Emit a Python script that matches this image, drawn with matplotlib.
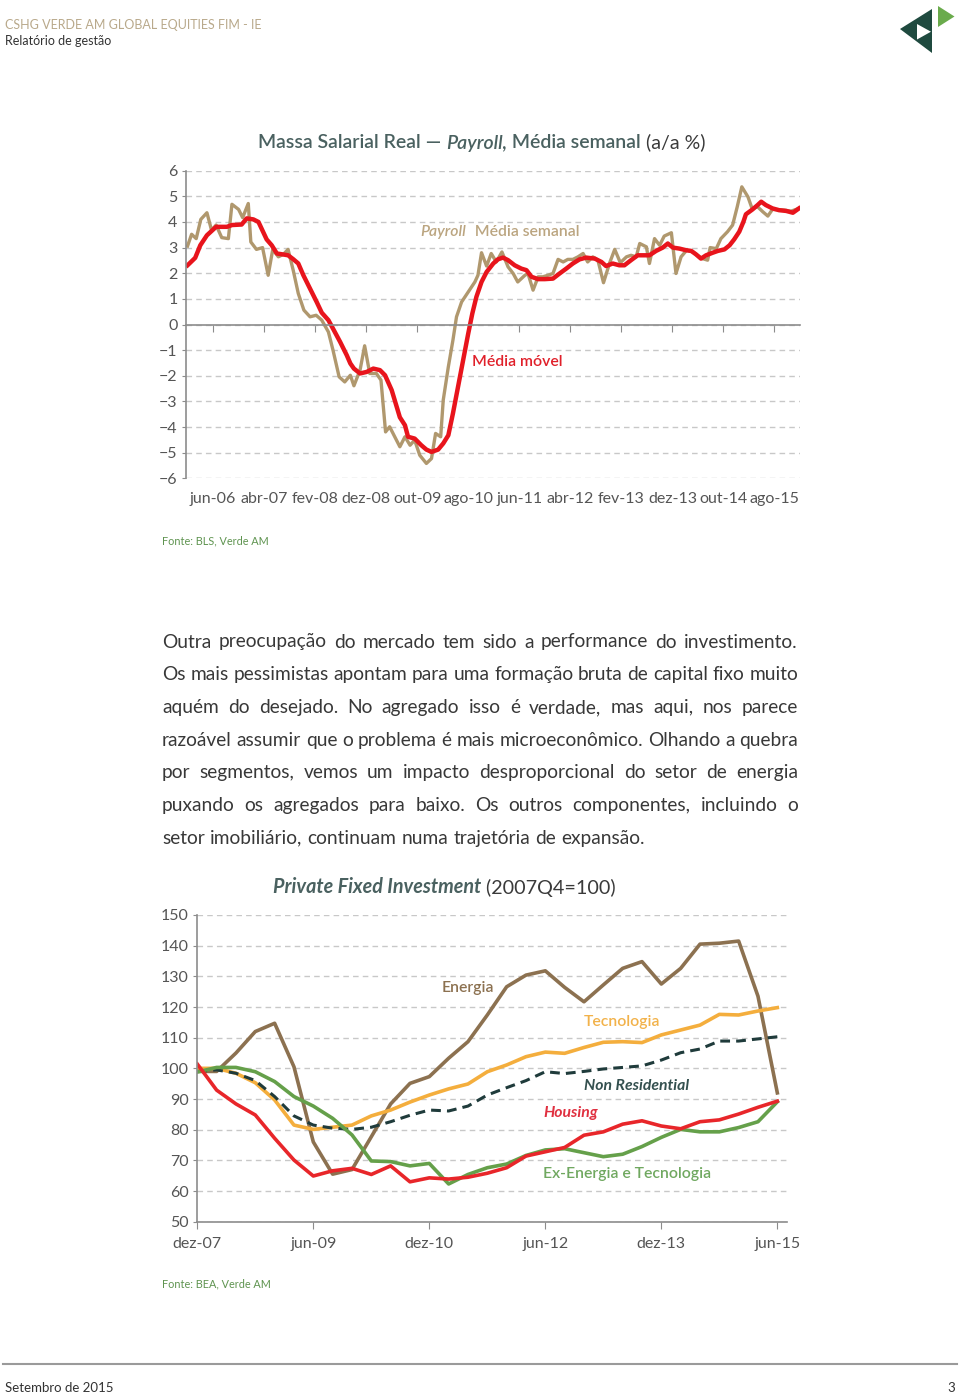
import matplotlib
matplotlib.use('Agg')
import matplotlib.pyplot as plt
from matplotlib.patches import Polygon

plt.rcParams['font.family'] = ['Lato', 'DejaVu Sans']

W, H = 960, 1395

# ── Top chart: Massa salarial real (a/a %) ──
# x in months, jun-06 = 0
payroll_m = [-5, -4.2, -3.3, -2.4, -1.2, -0.3, 0.6, 1.7, 3.0, 3.7, 5.0, 5.8, 6.9, 7.4, 8.5, 9.7,
             10.8, 11.7, 12.8, 13.8, 14.7, 15.7, 16.7, 17.8, 19.0, 20.2, 21.3, 22.6, 23.5, 24.7,
             25.8, 26.9, 27.6, 28.8, 29.7, 30.7, 32.0, 32.9, 33.8, 34.6, 35.6, 36.6, 37.6, 38.6,
             39.5, 40.5, 41.8, 42.8, 43.6, 44.6, 45.1, 46.1, 47.0, 47.7, 48.7, 50.0, 51.3, 51.9,
             52.6, 53.6, 54.5, 55.5, 56.6, 57.8, 58.8, 59.7, 61.1, 61.7, 62.7, 63.7, 64.6, 65.6,
             66.6, 67.6, 68.6, 69.5, 70.5, 71.5, 72.5, 73.4, 74.4, 75.4, 76.5, 77.7, 78.7, 79.8,
             81.0, 81.9, 82.9, 83.6, 84.9, 85.5, 86.5, 87.5, 88.4, 89.8, 90.7, 91.7, 92.8, 94.0,
             95.3, 95.9, 96.9, 97.4, 98.6, 99.5, 100.8, 101.8, 102.7, 103.6, 104.8, 105.6, 106.7,
             107.7, 108.7, 109.6, 110.8, 112.0, 113.2, 114.4]
payroll_v = [3.06, 3.52, 3.35, 4.1, 4.36, 3.68, 3.88, 3.39, 3.35, 4.69, 4.49, 4.17, 4.72, 3.22, 2.93, 3.0,
             1.92, 2.93, 2.64, 2.74, 2.93, 2.12, 1.21, 0.56, 0.30, 0.36, 0.17, -0.29, -1.0, -2.04,
             -2.24, -1.98, -2.39, -1.78, -0.83, -1.91, -1.91, -2.17, -4.19, -3.99, -4.38, -4.77, -4.38, -4.71,
             -4.51, -5.1, -5.42, -5.23, -4.25, -4.38, -2.95, -1.65, -0.61, 0.3, 0.88, 1.27, 1.66, 1.92,
             2.8, 2.28, 2.77, 2.44, 2.83, 2.25, 1.99, 1.66, 1.92, 1.99, 1.34, 1.86, 1.86, 1.92,
             1.99, 2.54, 2.44, 2.54, 2.54, 2.64, 2.77, 2.44, 2.64, 2.51, 1.63, 2.4, 2.93, 2.41,
             2.64, 2.7, 2.64, 3.16, 3.03, 2.38, 3.35, 3.09, 3.45, 3.58, 1.99, 2.64, 2.9, 2.83,
             2.64, 2.57, 2.51, 3.0, 2.96, 3.35, 3.62, 3.88, 4.59, 5.37, 4.98, 4.53, 4.59,
             4.4, 4.23, 4.49, 4.48, 4.46, 4.42, 4.5]

movel_m = [-5, -3.5, -2.5, -1.2, 0.6, 2.7, 3.7, 5.6, 6.6, 7.9, 8.9, 10.5, 11.5, 12.5, 13.8, 14.7,
           15.7, 16.7, 17.7, 19.0, 20.3, 21.3, 22.6, 23.5, 24.9, 26.2, 26.9, 27.6, 28.8, 30.1, 31.4,
           32.7, 33.7, 35.0, 36.6, 37.6, 38.2, 39.5, 40.8, 41.8, 42.8, 44.1, 45.1, 46.1, 47.0, 48.0,
           49.0, 50.0, 50.8, 51.6, 52.6, 53.6, 54.9, 55.8, 56.8, 57.8, 59.1, 60.4, 61.4, 62.4, 63.7,
           65.0, 66.6, 67.9, 69.2, 70.5, 71.8, 73.1, 74.8, 76.1, 77.0, 78.3, 79.6, 80.6, 81.9, 83.2,
           85.5, 86.8, 88.1, 89.1, 90.1, 91.4, 92.6, 93.7, 94.6, 95.6, 96.6, 97.9, 98.9, 100.2, 101.2,
           102.1, 103.1, 103.9, 104.4, 105.7, 106.7, 107.4, 108.3, 109.6, 110.9, 112.3, 113.6, 114.8]
movel_v = [2.31, 2.6, 3.09, 3.48, 3.81, 3.81, 3.88, 3.9, 4.14, 4.1, 4.0, 3.32, 3.09, 2.77, 2.73, 2.7,
           2.55, 2.38, 1.92, 1.4, 0.88, 0.46, 0.17, -0.16, -0.68, -1.2, -1.52, -1.72, -1.91, -1.85, -1.72,
           -1.78, -1.98, -2.56, -3.62, -3.93, -4.38, -4.45, -4.71, -4.88, -4.97, -4.88, -4.64, -4.32, -3.47, -2.43,
           -1.39, -0.35, 0.43, 1.08, 1.66, 2.05, 2.38, 2.54, 2.61, 2.51, 2.31, 2.18, 2.12, 1.86, 1.77,
           1.77, 1.79, 1.99, 2.18, 2.38, 2.54, 2.61, 2.57, 2.44, 2.28, 2.38, 2.31, 2.31, 2.51, 2.7,
           2.7, 2.87, 3.0, 3.16, 3.0, 2.96, 2.9, 2.87, 2.74, 2.57, 2.7, 2.8, 2.87, 2.93, 3.09,
           3.32, 3.62, 4.0, 4.3, 4.49, 4.66, 4.79, 4.66, 4.53, 4.46, 4.43, 4.36, 4.53]

top_tick_pos = [0, 10, 20, 30, 40, 50, 60, 70, 80, 90, 100, 110]
top_tick_lbl = ['jun-06', 'abr-07', 'fev-08', 'dez-08', 'out-09', 'ago-10',
                'jun-11', 'abr-12', 'fev-13', 'dez-13', 'out-14', 'ago-15']

# ── Bottom chart: Private Fixed Investment (2007Q4=100), quarters from dez-07 ──
quarters = list(range(31))
energia = [99, 99, 105, 112, 114.7, 100.5, 76, 65.5, 67, 77.7, 88.4, 95.1, 97.3, 103.3, 108.7, 117.4,
           126.6, 130.4, 131.8, 126.4, 121.7, 127.2, 132.6, 134.8, 127.5, 132.6, 140.5, 140.8, 141.5,
           123.5, 92]
tecnologia = [100, 100, 98.4, 95.3, 89.7, 81.5, 80.1, 80.8, 81.5, 84.5, 86.4, 89, 91.3, 93.3, 94.9,
              98.9, 101.1, 103.8, 105.3, 104.9, 106.8, 108.5, 108.7, 108.4, 110.9, 112.5, 114.1,
              117.6, 117.4, 118.7, 119.8]
non_residential = [99, 99.5, 98.4, 96, 90.8, 84.5, 81.5, 80.5, 80.1, 80.8, 82.6, 84.7, 86.4, 86.1,
                   87.7, 91.3, 93.7, 96, 98.9, 98.3, 99, 99.8, 100.3, 100.8, 102.7, 105.1, 106.3,
                   108.9, 108.9, 109.6, 110.3]
ex_energia = [98.8, 100.3, 100.3, 98.9, 95.7, 90.8, 87.7, 83.7, 78.3, 69.8, 69.6, 68.2, 69, 62.3,
              65.4, 67.6, 68.8, 71.6, 73.4, 73.8, 72.5, 71.2, 72, 74.5, 77.5, 80.1, 79.3, 79.3,
              80.7, 82.6, 89.1]
housing = [101.4, 92.9, 88.4, 84.8, 77.2, 70.1, 64.9, 66.6, 67.4, 65.4, 68.2, 63, 64.3, 63.9, 64.5,
           65.8, 67.6, 71.4, 72.8, 74.2, 78.2, 79.3, 81.8, 82.9, 81.2, 80.3, 82.6, 83.2, 85.1,
           87.3, 89.3]
bot_tick_pos = [0, 6, 12, 18, 24, 30]
bot_tick_lbl = ['dez-07', 'jun-09', 'dez-10', 'jun-12', 'dez-13', 'jun-15']

body = [
    'Outra preocupação do mercado tem sido a performance do investimento.',
    'Os mais pessimistas apontam para uma formação bruta de capital fixo muito',
    'aquém do desejado. No agregado isso é verdade, mas aqui, nos parece',
    'razoável assumir que o problema é mais microeconômico. Olhando a quebra',
    'por segmentos, vemos um impacto desproporcional do setor de energia',
    'puxando os agregados para baixo. Os outros componentes, incluindo o',
    'setor imobiliário, continuam numa trajetória de expansão.',
]

GRAY = '#8c8c8c'
LBL = '#555555'
TITLE = '#4a6160'
GRID = '#c8c8c8'


def fx(x):
    return x / W


def fy(y):
    return 1 - y / H


def rich(ax, x, y, parts, size, coords='data'):
    """Draw consecutive text pieces with different styles on one line."""
    s0, kw0 = parts[0]
    if coords == 'fig':
        t = ax.figure.text(fx(x), fy(y), s0, fontsize=size, va='center', **kw0)
    else:
        t = ax.text(x, y, s0, fontsize=size, va='center', **kw0)
    for s, kw in parts[1:]:
        t = ax.annotate(s, xy=(1, 0), xycoords=t, va='bottom', ha='left',
                        fontsize=size, annotation_clip=False, **kw)
    return t


fig = plt.figure(figsize=(W / 100, H / 100), dpi=100)

# header
fig.text(fx(5), fy(25), 'CSHG VERDE AM GLOBAL EQUITIES FIM - IE', fontsize=9,
         color='#b9a98b', va='center')
fig.text(fx(5), fy(41), 'Relatório de gestão', fontsize=9, color='#333333', va='center')
logo = [([(900, 29), (932, 9), (932, 53)], '#1f4a3f'),
        ([(917, 24), (917, 39.5), (931, 31.7)], 'white'),
        ([(938, 6), (938, 27), (954.5, 16.5)], '#6aab4c')]
for pts, c in logo:
    fig.add_artist(Polygon([(fx(a), fy(b)) for a, b in pts], closed=True, color=c,
                           transform=fig.transFigure, lw=0))

# ── top chart ──
ax1 = fig.add_axes([fx(186), fy(478.3), 614 / W, 307.6 / H])
ax1.set_xlim(-5.3, 115)
ax1.set_ylim(-6, 6)
ax1.set_axisbelow(True)
ax1.yaxis.grid(True, linestyle=(0, (4, 3)), color=GRID, lw=1)
for s in ['top', 'right']:
    ax1.spines[s].set_visible(False)
ax1.spines['bottom'].set_position(('data', 0))
ax1.spines['bottom'].set_color(GRAY)
ax1.spines['left'].set_color(GRAY)
ax1.spines['bottom'].set_linewidth(1.2)
ax1.spines['left'].set_linewidth(1.2)
ax1.set_yticks(range(-6, 7))
ax1.set_yticklabels([str(v).replace('-', '−') for v in range(-6, 7)])
ax1.tick_params(axis='y', length=3, color=GRAY, labelsize=11.5, labelcolor=LBL, pad=3)
ax1.set_xticks(top_tick_pos)
ax1.tick_params(axis='x', length=5, color=GRAY, labelbottom=False)
sec = ax1.secondary_xaxis('bottom')
sec.set_xticks(top_tick_pos, labels=top_tick_lbl)
sec.tick_params(length=0, pad=10, labelsize=11.5, labelcolor=LBL)
sec.spines['bottom'].set_visible(False)

ax1.plot(payroll_m, payroll_v, color='#b0986e', lw=2.4, solid_joinstyle='round')
ax1.plot(movel_m, movel_v, color='#e8141c', lw=3.2, solid_joinstyle='round')

rich(ax1, 40.7, 3.6, [('Payroll', dict(color='#bba580', style='italic', weight='semibold')),
                       ('  Média semanal', dict(color='#bba580', weight='semibold'))], 11.3)
ax1.text(50.7, -1.47, 'Média móvel', fontsize=11.3, color='#e0202a', weight='semibold', va='center')

rich(ax1, 258, 143, [('Massa Salarial Real — ', dict(color=TITLE, weight='semibold')),
                     ('Payroll,', dict(color=TITLE, weight='semibold', style='italic')),
                     (' Média semanal', dict(color=TITLE, weight='semibold')),
                     (' (a/a %)', dict(color='#3a3a3a'))], 14.0, coords='fig')

fig.text(fx(162), fy(541), 'Fonte: BLS, Verde AM', fontsize=7.8, color='#5f9450', va='center')

# ── body text (justified) ──
renderer = fig.canvas.get_renderer()
x0, x1 = 162, 798


def layout_body(size):
    rows = []
    for i, line in enumerate(body):
        y = 642 + i * 32.7
        words = line.split()
        ts = [fig.text(0, fy(y), w, fontsize=size, color='#383838', va='center') for w in words]
        widths = [t.get_window_extent(renderer).width for t in ts]
        rows.append((ts, widths))
    return rows


size = 15.5
while True:
    rows = layout_body(size)
    gaps = [(x1 - x0 - sum(wd)) / (len(wd) - 1) for ts, wd in rows[:-1]]
    if min(gaps) >= 3.8 or size <= 12:
        break
    for ts, wd in rows:
        for t in ts:
            t.remove()
    size -= 0.25

for i, (ts, widths) in enumerate(rows):
    gap = 0.27 * size * 100 / 72 if i == len(rows) - 1 else gaps[i]
    x = x0
    for t, w in zip(ts, widths):
        t.set_x(fx(x))
        x += w + gap

# ── bottom chart ──
ax2 = fig.add_axes([fx(197.3), fy(1221.7), 589.7 / W, 306.7 / H])
ax2.set_xlim(0, 30.5)
ax2.set_ylim(50, 150)
ax2.set_axisbelow(True)
ax2.set_yticks(range(50, 151, 10))
ax2.yaxis.grid(True, linestyle=(0, (4, 3)), color=GRID, lw=1)
for s in ['top', 'right']:
    ax2.spines[s].set_visible(False)
for s in ['bottom', 'left']:
    ax2.spines[s].set_color(GRAY)
    ax2.spines[s].set_linewidth(1.2)
ax2.tick_params(axis='y', length=3, color=GRAY, labelsize=11.5, labelcolor=LBL, pad=3)
ax2.set_xticks(bot_tick_pos, labels=bot_tick_lbl)
ax2.tick_params(axis='x', length=5, color=GRAY, labelsize=11.5, labelcolor=LBL, pad=6)

ax2.plot(quarters, energia, color='#8c7150', lw=2.6)
ax2.plot(quarters, tecnologia, color='#f4ae3d', lw=2.6)
ax2.plot(quarters, non_residential, color='#1f3b3b', lw=2.2, linestyle=(0, (3.2, 2)))
ax2.plot(quarters, ex_energia, color='#65a04a', lw=2.6)
ax2.plot(quarters, housing, color='#e8262a', lw=2.6)

ax2.text(12.66, 126.2, 'Energia', fontsize=11.3, color='#8c7150', weight='semibold', va='center')
ax2.text(20.0, 115.1, 'Tecnologia', fontsize=11.3, color='#f2b24a', weight='semibold', va='center')
ax2.text(20.0, 94.2, 'Non Residential', fontsize=11.3, color='#34504f', weight='bold',
         style='italic', va='center')
ax2.text(17.9, 85.4, 'Housing', fontsize=11.3, color='#e03040', weight='bold', style='italic',
         va='center')
ax2.text(17.9, 65.6, 'Ex-Energia e Tecnologia', fontsize=11.3, color='#70a860', weight='semibold',
         va='center')

rich(ax2, 273, 887, [('Private Fixed Investment', dict(color=TITLE, weight='bold', style='italic')),
                     (' (2007Q4=100)', dict(color='#3a3a3a'))], 14.2, coords='fig')

fig.text(fx(162), fy(1284), 'Fonte: BEA, Verde AM', fontsize=7.8, color='#5f9450', va='center')

# footer
fig.add_artist(plt.Line2D([fx(3), fx(957)], [fy(1364), fy(1364)], color='#9a9a9a', lw=1.5,
                          transform=fig.transFigure))
fig.text(fx(5), fy(1388), 'Setembro de 2015', fontsize=9.5, color='#333333', va='center')
fig.text(fx(955), fy(1388), '3', fontsize=9.5, color='#333333', va='center', ha='right')

fig.savefig('out.png', dpi=100)
